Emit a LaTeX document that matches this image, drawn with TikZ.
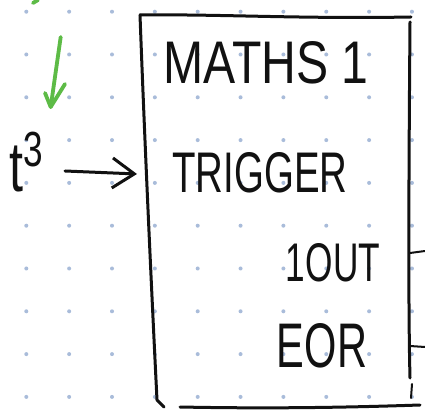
\documentclass[tikz,border=0pt]{standalone}
\usepackage{fontspec}
\setmainfont{Liberation Sans}
\usetikzlibrary{arrows.meta}
\definecolor{dotc}{HTML}{A9BCDA}
\definecolor{pen}{HTML}{111111}
\definecolor{greenpen}{HTML}{5DBB46}
\tikzset{
  griddot/.style={fill=dotc, draw=none},
  ink/.style={draw=pen, line width=3pt, line cap=round, line join=round},
  greenink/.style={draw=greenpen, line width=3.8pt, line cap=round, line join=round},
  hand/.style={inner sep=0pt, text=pen},
}
\begin{document}
\begin{tikzpicture}[x=1pt,y=-1pt]
\useasboundingbox (0,0) rectangle (425,419);
\fill[white] (0,0) rectangle (425,419);
% dot grid
\foreach \i in {0,...,9}{
  \foreach \j in {0,...,9}{
    \fill[griddot] ({26.3+42.85*\i},{11.7+42.8*\j}) circle (2pt);
  }
}
% box corners
\coordinate (tl) at (140,15);
\coordinate (tr) at (411,17);
\coordinate (bl) at (157,400);
\coordinate (blh) at (164,407);
\coordinate (bls) at (180,407);
\coordinate (brs) at (420,405);
\coordinate (rt) at (410,22);
\coordinate (rb) at (410,378);
\coordinate (tk1) at (412,384);
\coordinate (tk2) at (411,398);
\coordinate (inp) at (137,174);
\coordinate (o1a) at (410,253);
\coordinate (o1b) at (425,251);
\coordinate (o2a) at (410,346);
\coordinate (o2b) at (425,347);
% box
\draw[ink] (tl) .. controls (220,14) and (300,19) .. (tr);
\draw[ink] (tl) .. controls (145,150) and (152,300) .. (bl) -- (blh);
\draw[ink] (bls) .. controls (280,409) and (360,407) .. (brs);
\draw[ink] (rt) .. controls (409,150) and (408,300) .. (rb);
\draw[ink, line width=2pt] (tk1) -- (tk2);
\draw[ink, line width=2pt] (o1a) -- (o1b);
\draw[ink, line width=2pt] (o2a) -- (o2b);
% texts
\node[hand] (title) at (266,63) {\resizebox{205pt}{42pt}{MATHS 1}};
\node[hand] (trig) at (260,173) {\resizebox{175pt}{40pt}{TRIGGER}};
\node[hand] (oneout) at (333,263) {\resizebox{94pt}{38pt}{1OUT}};
\node[hand] (eor) at (322,346) {\resizebox{90pt}{44pt}{EOR}};
\node[hand] (tcube) at (28,162) {\resizebox{36pt}{60pt}{t\textsuperscript{3}}};
% black arrow
\draw[ink, -{Straight Barb[length=22pt,width=30pt,line width=3pt]}] (65,171) -- (inp);
% green arrow
\coordinate (g1) at (60.7,37);
\coordinate (g2) at (50.7,107);
\draw[greenink] (g1) -- (g2);
\draw[greenink] (45,93) -- (g2) -- (65,84);
\coordinate (gf1) at (33,3);
\coordinate (gf2) at (38,0);
\draw[greenink] (gf1) -- (gf2);
\end{tikzpicture}
\end{document}
